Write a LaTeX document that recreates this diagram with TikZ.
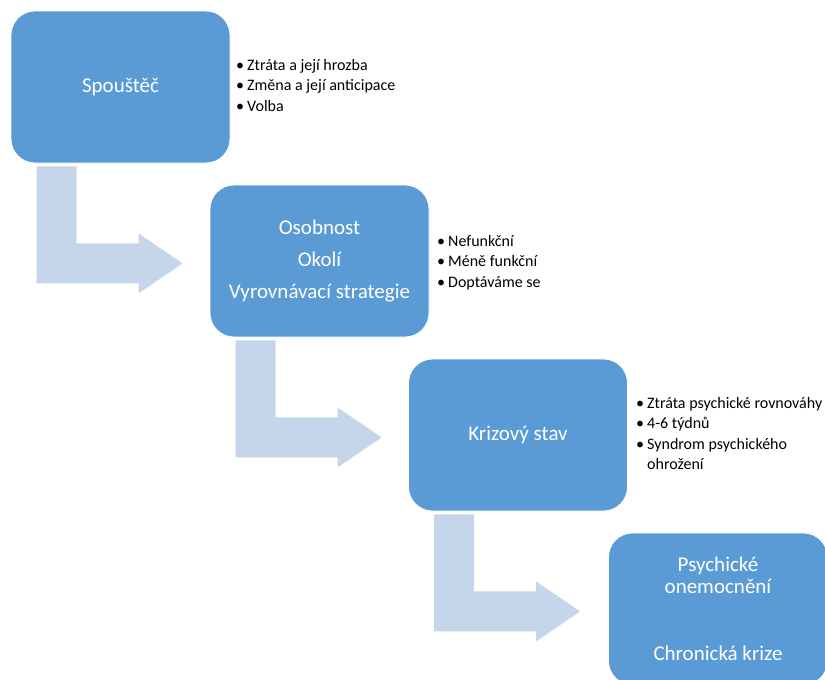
\documentclass[tikz,border=0pt]{standalone}
\usepackage{fontspec}
\setmainfont{Carlito}
\usetikzlibrary{calc}
\definecolor{boxblue}{HTML}{5B9BD5}
\definecolor{arrowblue}{HTML}{C5D5EA}
\tikzset{
  stagebox/.style={rounded corners=24pt, fill=boxblue, draw=white, line width=0.8pt,
    minimum width=219pt, minimum height=152pt, text=white, align=center,
    font=\fontsize{21}{32}\selectfont, inner sep=0pt},
  bulletlist/.style={anchor=north west, align=left, inner sep=0pt,
    font=\fontsize{16}{20.5}\selectfont, text=black},
  bentarrow/.pic={
    \fill[arrowblue] (0,0) -- (40,0) -- (40,77) -- (102,77) -- (102,67) -- (146,97)
      -- (102,127) -- (102,117) -- (0,117) -- cycle;
  }
}
\newcommand{\bitem}{\makebox[11pt][l]{\textbullet}}
\begin{document}
\begin{tikzpicture}[x=1pt,y=-1pt]
\useasboundingbox (0,0) rectangle (825,680);
\clip (0,0) rectangle (825,680);
\node[stagebox] (b1) at (120.5,87) {\raisebox{-2pt}{Spouštěč}};
\node[stagebox] (b2) at (319.5,261) {Osobnost\\Okolí\\Vyrovnávací strategie};
\node[stagebox, font=\fontsize{21}{22}\selectfont] (b4) at (718,609) {Psychické\\onemocnění\\[45pt]Chronická krize};
\node[stagebox] (b3) at (518,435) {\raisebox{-1pt}{Krizový stav}};
\pic at ($(b1.south west)+(26,3)$) {bentarrow};
\pic at ($(b2.south west)+(26,3)$) {bentarrow};
\pic at ($(b3.south west)+(26,3)$) {bentarrow};
\node[bulletlist] (l1) at (236,59) {\bitem Ztráta a její hrozba\\\bitem Změna a její anticipace\\\bitem Volba};
\node[bulletlist] (l2) at (437,235) {\bitem Nefunkční\\\bitem Méně funkční\\\bitem Doptáváme se};
\node[bulletlist] (l3) at (636,397) {\bitem Ztráta psychické rovnováhy\\\bitem 4-6 týdnů\\\bitem Syndrom psychického\\\hspace*{11pt}ohrožení};
\end{tikzpicture}
\end{document}
